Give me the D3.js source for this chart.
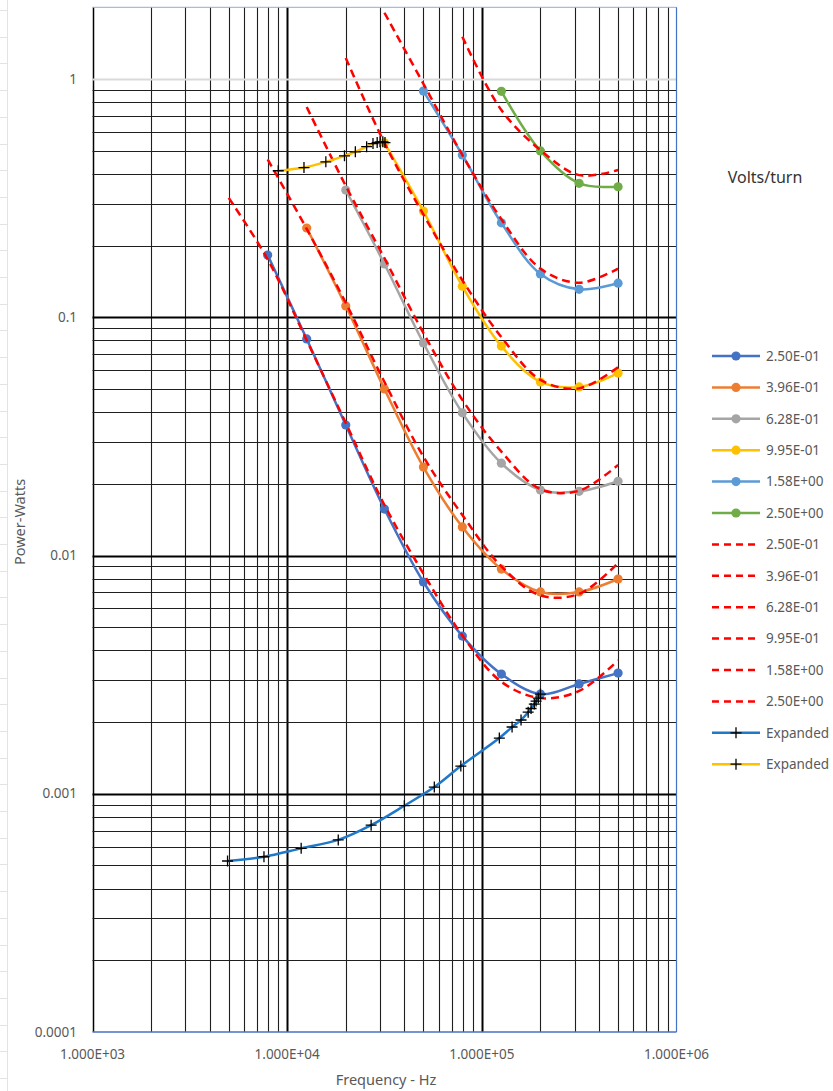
<!DOCTYPE html>
<html>
<head>
<meta charset="utf-8">
<script src="https://cdn.jsdelivr.net/npm/d3@7/dist/d3.min.js"></script>
<style>
body { margin: 0; background: #fff; }
text { font-family: "Noto Sans", "Open Sans", sans-serif; }
</style>
</head>
<body>
<svg id="chart" width="833" height="1091"></svg>
<script>
// frequency grid (Hz) shared by the measured and calculated curves
const freqs = [5.01e3, 7.94e3, 1.26e4, 2.00e4, 3.16e4, 5.01e4, 7.94e4, 1.26e5, 2.00e5, 3.16e5, 5.01e5];

// measured power (W), one array per volts/turn value, null = not measured
const meas025 = [null, 0.1825, 0.0811, 0.0353, 0.01567, 0.00774, 0.00459, 0.00318, 0.00262, 0.00289, 0.00321];
const meas0396 = [null, null, 0.237, 0.1115, 0.050, 0.0235, 0.01318, 0.00877, 0.00703, 0.00703, 0.00797];
const meas0628 = [null, null, null, 0.342, 0.1674, 0.078, 0.0397, 0.0244, 0.01883, 0.0186, 0.0205];
const meas0995 = [null, null, null, null, 0.54, 0.279, 0.135, 0.0757, 0.0535, 0.0510, 0.0583];
const meas158 = [null, null, null, null, null, 0.890, 0.480, 0.249, 0.152, 0.131, 0.139];
const meas250 = [null, null, null, null, null, null, null, 0.888, 0.499, 0.365, 0.353];

// calculated power (W), dashed red
const calc025 = [0.317, 0.175, 0.080, 0.036, 0.0163, 0.0084, 0.00462, 0.00295, 0.00252, 0.00270, 0.00363];
const calc0396 = [null, 0.46, 0.235, 0.115, 0.0535, 0.026, 0.0148, 0.0090, 0.0068, 0.0069, 0.0093];
const calc0628 = [null, null, 0.763, 0.356, 0.177, 0.0859, 0.045, 0.0273, 0.0190, 0.0187, 0.0240];
const calc0995 = [null, null, null, 1.225, 0.539, 0.27, 0.143, 0.0826, 0.0546, 0.0503, 0.0618];
const calc158 = [null, null, null, null, 1.897, 0.955, 0.48, 0.258, 0.160, 0.1396, 0.160];
const calc250 = [null, null, null, null, null, null, 1.505, 0.741, 0.503, 0.395, 0.415];

// expanded sweeps
const expBlueF = [4.94e3, 7.6e3, 11.8e3, 18.3e3, 27e3, 40e3, 57e3, 78e3, 123e3, 143e3, 159e3, 173e3, 179e3, 186e3, 190e3, 195e3, 200e3];
const expBlueP = [0.000522, 0.000544, 0.000590, 0.000640, 0.000738, 0.000891, 0.001067, 0.001307, 0.001713, 0.001906, 0.00204, 0.0022, 0.00228, 0.00238, 0.00245, 0.00252, 0.00262];
const expYelF = [9.0e3, 12.2e3, 15.8e3, 19.7e3, 22.4e3, 25.6e3, 27.6e3, 29e3, 30e3, 31e3, 31.8e3];
const expYelP = [0.412, 0.425, 0.449, 0.476, 0.495, 0.520, 0.536, 0.541, 0.545, 0.545, 0.541];

const seriesNames = ["2.50E-01", "3.96E-01", "6.28E-01", "9.95E-01", "1.58E+00", "2.50E+00"];
const seriesColors = ["#4472C4", "#ED7D31", "#A5A5A5", "#FFC000", "#5B9BD5", "#70AD47"];
const yTickLabels = ["0.0001", "0.001", "0.01", "0.1", "1"];
const xTickLabels = ["1.000E+03", "1.000E+04", "1.000E+05", "1.000E+06"];

const measured = [meas025, meas0396, meas0628, meas0995, meas158, meas250];
const calculated = [calc025, calc0396, calc0628, calc0995, calc158, calc250];

const svg = d3.select("#chart");
const x = d3.scaleLog().domain([1e3, 1e6]).range([92.5, 676.5]);
const y = d3.scaleLog().domain([1e-4, 2]).range([1032, 7.3]);

function pairs(vals) {
	return freqs.map((f, i) => [f, vals[i]]).filter(d => d[1] !== null);
}

// faint spreadsheet cells at the far left
const sheet = svg.append("g");
sheet.append("line")
	.attr("x1", 7.5).attr("x2", 7.5).attr("y1", 0).attr("y2", 1091)
	.attr("stroke", "#e3e3e3");
d3.range(10, 1091, 26.7).forEach(r => {
	sheet.append("line")
		.attr("x1", 0).attr("x2", 7.5).attr("y1", Math.round(r) + 0.5).attr("y2", Math.round(r) + 0.5)
		.attr("stroke", "#e3e3e3");
});

// grid
const grid = svg.append("g");
const isMajor = v => Math.abs(Math.log10(v) - Math.round(Math.log10(v))) < 1e-9;

x.ticks().filter(v => v < 1e6).forEach(v => {
	const px = Math.round(x(v)) + 0.5;
	grid.append("line")
		.attr("x1", px).attr("x2", px).attr("y1", y(2)).attr("y2", y(1e-4))
		.attr("stroke", isMajor(v) ? "#000" : "#1f1f1f")
		.attr("stroke-width", isMajor(v) ? (v === 1e3 ? 1.5 : 2) : 1.1);
});
y.ticks().filter(v => v <= 1 && v > 1e-4).forEach(v => {
	const py = Math.round(y(v)) + 0.5;
	grid.append("line")
		.attr("x1", x(1e3)).attr("x2", x(1e6)).attr("y1", py).attr("y2", py)
		.attr("stroke", v === 1 ? "#d9d9d9" : (isMajor(v) ? "#000" : "#1f1f1f"))
		.attr("stroke-width", isMajor(v) ? 2 : 1.1);
});

// plot border
grid.append("line").attr("x1", x(1e3)).attr("x2", x(1e6)).attr("y1", y(2)).attr("y2", y(2))
	.attr("stroke", "#8eaadb").attr("stroke-width", 1);
grid.append("line").attr("x1", x(1e6)).attr("x2", x(1e6)).attr("y1", y(2)).attr("y2", y(1e-4))
	.attr("stroke", "#4472C4").attr("stroke-width", 1.2);
grid.append("line").attr("x1", x(1e3)).attr("x2", x(1e6)).attr("y1", y(1e-4)).attr("y2", y(1e-4))
	.attr("stroke", "#4472C4").attr("stroke-width", 1.5);

// tick labels
svg.append("g").selectAll("text").data(yTickLabels).join("text")
	.attr("x", 77).attr("y", d => y(+d)).attr("dy", "0.35em")
	.attr("text-anchor", "end").attr("font-size", 13.5).attr("fill", "#595959")
	.text(d => d);
svg.append("g").selectAll("text").data(xTickLabels).join("text")
	.attr("x", d => x(+d)).attr("y", 1054).attr("dy", "0.35em")
	.attr("text-anchor", "middle").attr("font-size", 13.5).attr("fill", "#595959")
	.text(d => d);

svg.append("text").attr("x", 386).attr("y", 1080).attr("dy", "0.35em")
	.attr("text-anchor", "middle").attr("font-size", 14.5).attr("fill", "#595959")
	.text("Frequency - Hz");
svg.append("text").attr("transform", "translate(20,522) rotate(-90)").attr("dy", "0.35em")
	.attr("text-anchor", "middle").attr("font-size", 14.5).attr("fill", "#595959")
	.text("Power-Watts");

const line = d3.line()
	.x(d => x(d[0]))
	.y(d => y(d[1]))
	.curve(d3.curveCatmullRom.alpha(0.5));

const plot = svg.append("g");

// measured curves
measured.forEach((vals, i) => {
	const pts = pairs(vals);
	plot.append("path").attr("d", line(pts))
		.attr("fill", "none").attr("stroke", seriesColors[i]).attr("stroke-width", 2.5);
	plot.append("g").selectAll("circle").data(pts).join("circle")
		.attr("cx", d => x(d[0])).attr("cy", d => y(d[1])).attr("r", 4.6)
		.attr("fill", seriesColors[i]);
});

// calculated curves
calculated.forEach(vals => {
	plot.append("path").attr("d", line(pairs(vals)))
		.attr("fill", "none").attr("stroke", "#FF0000").attr("stroke-width", 2.5)
		.attr("stroke-dasharray", "8,5");
});

// expanded sweeps
function crosses(g, pts) {
	g.selectAll("path.cross").data(pts).join("path")
		.attr("class", "cross")
		.attr("d", d => {
			const cx = x(d[0]), cy = y(d[1]);
			return `M${cx - 5.5},${cy}H${cx + 5.5}M${cx},${cy - 5.5}V${cy + 5.5}`;
		})
		.attr("stroke", "#000").attr("stroke-width", 1.3);
}
const blueExp = expBlueF.map((f, i) => [f, expBlueP[i]]);
const yelExp = expYelF.map((f, i) => [f, expYelP[i]]);
plot.append("path").attr("d", line(blueExp))
	.attr("fill", "none").attr("stroke", "#1F78C8").attr("stroke-width", 2.5);
crosses(plot.append("g"), blueExp);
plot.append("path").attr("d", line(yelExp))
	.attr("fill", "none").attr("stroke", "#FFC000").attr("stroke-width", 2.5);
crosses(plot.append("g"), yelExp);

// legend
const legend = svg.append("g");
legend.append("text").attr("x", 765).attr("y", 177).attr("dy", "0.35em")
	.attr("text-anchor", "middle").attr("font-size", 16).attr("fill", "#333")
	.text("Volts/turn");

const legendRows = [];
seriesNames.forEach((n, i) => legendRows.push({name: n, kind: "meas", color: seriesColors[i]}));
seriesNames.forEach(n => legendRows.push({name: n, kind: "calc", color: "#FF0000"}));
legendRows.push({name: "Expanded", kind: "exp", color: "#1F78C8"});
legendRows.push({name: "Expanded", kind: "exp", color: "#FFC000"});

legendRows.forEach((r, i) => {
	const ly = 356 + i * 31.4;
	const row = legend.append("g").attr("transform", `translate(0,${ly})`);
	row.append("line").attr("x1", 712).attr("x2", 760).attr("y1", 0).attr("y2", 0)
		.attr("stroke", r.color).attr("stroke-width", 2.5)
		.attr("stroke-dasharray", r.kind === "calc" ? "7,5" : null);
	if (r.kind === "meas") {
		row.append("circle").attr("cx", 736).attr("cy", 0).attr("r", 4.6).attr("fill", r.color);
	} else if (r.kind === "exp") {
		row.append("path").attr("d", "M730.5,0H741.5M736,-5.5V5.5").attr("stroke", "#000").attr("stroke-width", 1.3);
	}
	row.append("text").attr("x", 766).attr("y", 0).attr("dy", "0.35em")
		.attr("font-size", 13.5).attr("fill", "#595959").text(r.name);
});
</script>
</body>
</html>
